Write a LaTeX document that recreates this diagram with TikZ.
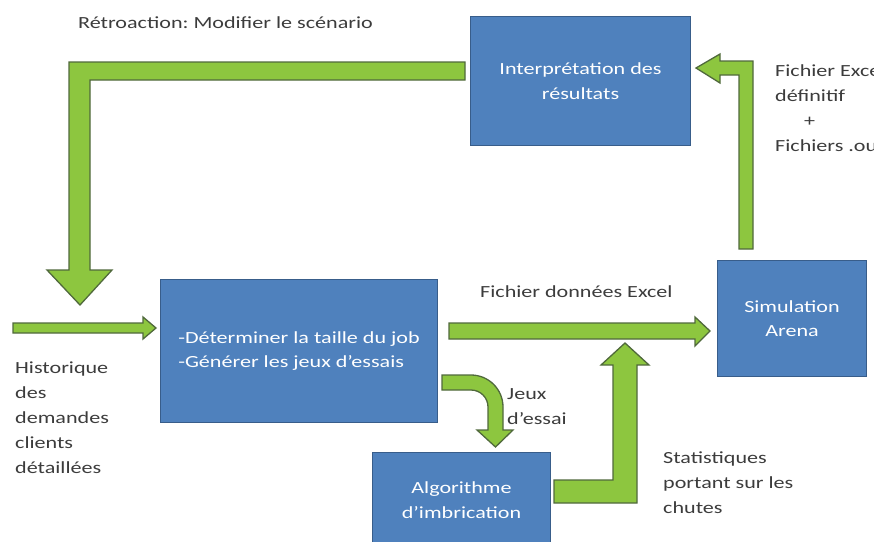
\documentclass[tikz,border=0pt]{standalone}
\usepackage{fontspec}
\setmainfont{Carlito}[FakeStretch=1.3]
\definecolor{boxblue}{RGB}{79,129,189}
\definecolor{boxedge}{RGB}{56,93,138}
\definecolor{arrgreen}{RGB}{141,198,63}
\definecolor{arredge}{RGB}{80,105,60}
\definecolor{txt}{RGB}{60,60,60}
\frenchspacing
\begin{document}
\begin{tikzpicture}[x=1pt,y=-1pt,
  box/.style={draw=boxedge, fill=boxblue, line width=1pt, text=white, align=center,
    font=\fontsize{17}{24.5}\selectfont, inner sep=0pt, anchor=north west},
  blockarrow/.style={draw=arredge, fill=arrgreen, line width=1.3pt, line join=miter},
  lbl/.style={text=txt, align=left, anchor=base west, inner sep=0pt,
    font=\fontsize{17}{25}\selectfont}]
\useasboundingbox (0,0) rectangle (874,541);

% boxes
\node[box, minimum width=220pt, minimum height=129pt] (interp) at (470,16) {Interprétation des\\résultats};
\node[box, minimum width=277pt, minimum height=143pt, align=left] (job) at (160,279) {-Déterminer la taille du job\\-Générer les jeux d’essais};
\node[box, minimum width=149pt, minimum height=116pt] (sim) at (717,260) {Simulation\\Arena};
\node[box, minimum width=178pt, minimum height=95pt] (algo) at (372,452) {Algorithme\\d’imbrication};

% block arrows
% feedback: interp -> down to left
\draw[blockarrow] (465,62) -- (69,62) -- (69,270) -- (47,270) -- (80,305) -- (112,270) -- (90,270) -- (90,80) -- (465,80) -- cycle;
% input
\draw[blockarrow] (13,323) -- (143,323) -- (143,317) -- (156,328) -- (143,339) -- (143,333) -- (13,333) -- cycle;
% job -> sim
\draw[blockarrow] (449,323) -- (695,323) -- (695,317) -- (710,331) -- (695,346) -- (695,339) -- (449,339) -- cycle;
% job -> algo (curved)
\draw[blockarrow] (442,375) -- (471,375) .. controls (488.7,375) and (503,389.3) .. (503,407)
  -- (503,430) -- (513,430) -- (495.5,447) -- (477,430) -- (488,430) -- (488,407)
  .. controls (488,397.6) and (480.4,390) .. (471,390) -- (442,390) -- cycle;
% algo -> up
\draw[blockarrow] (554,480) -- (613,480) -- (613,365) -- (601,365) -- (625,343) -- (649,365) -- (637,365) -- (637,503) -- (554,503) -- cycle;
% sim -> interp
\draw[blockarrow] (739,249) -- (739,75) -- (720,75) -- (720,83) -- (696,68) -- (720,54) -- (720,61) -- (753,61) -- (753,249) -- cycle;

% labels (base anchor = baseline of the last line)
\node[lbl] (retro) at (78,28) {Rétroaction: Modifier le scénario};
\node[lbl] (fexcel) at (775,151) {Fichier Excel\\définitif\\\hspace*{29pt}+\\Fichiers .out};
\node[lbl] (hist) at (15,473) {Historique\\des\\demandes\\clients\\détaillées};
\node[lbl] (fdon) at (480,297) {Fichier données Excel};
\node[lbl] (jeux) at (507,424) {Jeux\\d’essai};
\node[lbl] (stat) at (663,513) {Statistiques\\portant sur les\\chutes};
\end{tikzpicture}
\end{document}
